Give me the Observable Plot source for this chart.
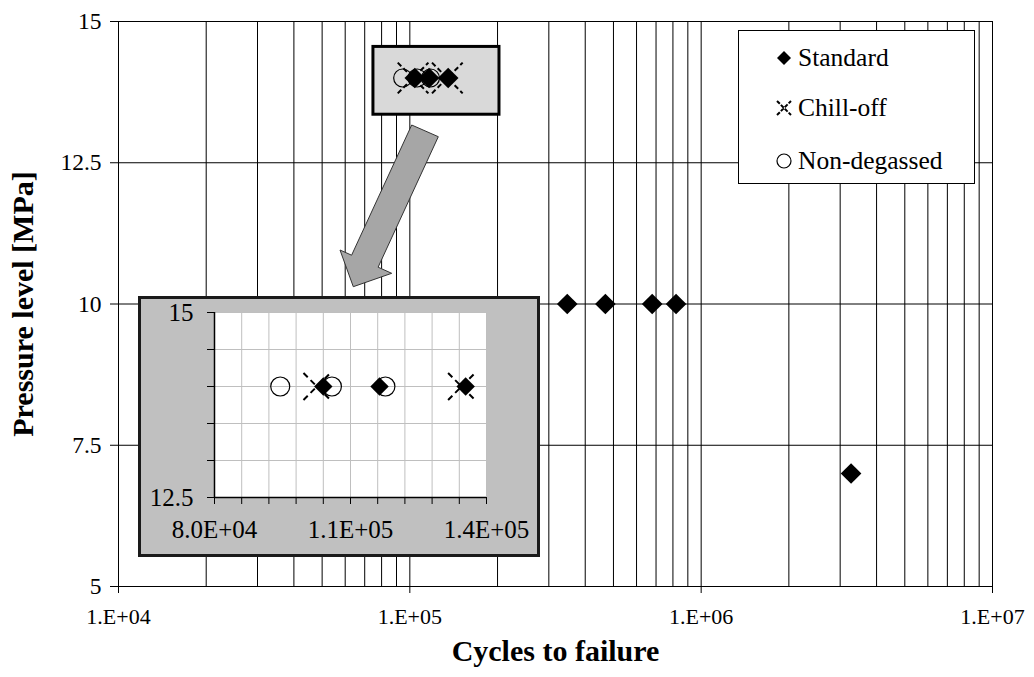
<!DOCTYPE html>
<html><head><meta charset="utf-8">
<script src="https://cdn.jsdelivr.net/npm/d3@7"></script>
<script src="https://cdn.jsdelivr.net/npm/@observablehq/plot@0.6"></script>
<style>
body{margin:0;background:#fff;}
#wrap{position:relative;width:1034px;height:677px;font-family:"Liberation Serif","Times New Roman",serif;overflow:hidden;}
#main{position:absolute;left:0;top:0;}
#inset{position:absolute;left:138px;top:296px;width:402px;height:261px;box-sizing:border-box;border:3px solid #1a1a1a;background:#c0c0c0;}
#legend{position:absolute;left:738px;top:30px;width:237px;height:154px;box-sizing:border-box;border:1px solid #000;background:#fff;}
.lg{position:absolute;left:0;height:30px;display:flex;align-items:center;font-size:25.5px;color:#000;font-family:"Liberation Serif","Times New Roman",serif;}
.lg svg{margin-left:33px;margin-right:2px;}
#arrow{position:absolute;left:0;top:0;pointer-events:none;}
</style></head><body>
<div id="wrap">
<div id="main"></div>
<svg id="arrow" width="1034" height="677"><polygon points="411.7,125 438.3,136.7 378.1,267.2 391.7,273.3 353.3,286.7 340,250 351.6,255.2" fill="#a6a6a6" stroke="#333" stroke-width="1"/></svg>
<div id="inset"></div>
<div id="legend">
 <div class="lg" style="top:12px"><svg width="24" height="24" viewBox="-12 -12 24 24"><path d="M0,-7L7,0L0,7L-7,0Z" fill="#000"/></svg>Standard</div>
 <div class="lg" style="top:62px"><svg width="24" height="24" viewBox="-12 -12 24 24"><path d="M-7,-7L7,7M-7,7L7,-7" stroke="#000" stroke-width="2" fill="none" stroke-dasharray="4,1.5"/></svg>Chill-off</div>
 <div class="lg" style="top:115px"><svg width="24" height="24" viewBox="-12 -12 24 24"><circle r="7" fill="none" stroke="#000" stroke-width="1.2"/></svg>Non-degassed</div>
</div>
</div>
<script>
// ---- data ----
const standardCycles   = [104000, 116400, 135400, 347000, 469000, 679000, 820000, 3270000];
const standardPressure = [14, 14, 14, 10, 10, 10, 10, 7];
const chillCycles      = [102600, 134500];
const chillPressure    = [14, 14];
const nonDegCycles     = [94500, 105900, 117700];
const nonDegPressure   = [14, 14, 14];

const xTicks = [1e4, 1e5, 1e6, 1e7];
const xTickLabels = ["1.E+04", "1.E+05", "1.E+06", "1.E+07"];
const yTicks = [5, 7.5, 10, 12.5, 15];
const yTickLabels = ["5", "7.5", "10", "12.5", "15"];

const insetXTicks = [80000, 110000, 140000];
const insetXTickLabels = ["8.0E+04", "1.1E+05", "1.4E+05"];
const insetYTicks = [12.5, 15];
const insetYTickLabels = ["12.5", "15"];

const standard = standardCycles.map((c, i) => ({c, p: standardPressure[i]}));
const chill = chillCycles.map((c, i) => ({c, p: chillPressure[i]}));
const nonDeg = nonDegCycles.map((c, i) => ({c, p: nonDegPressure[i]}));

const font = '"Liberation Serif", "Times New Roman", serif';

// log grid lines
const gridX = [];
for (const d of [1e4, 1e5, 1e6]) for (let k = 1; k <= 9; k++) gridX.push(k * d);
gridX.push(1e7);

// highlight window around the 14 MPa cluster
const cl = [...standard, ...chill, ...nonDeg].filter(d => d.p === 14);
const win = [{x1: d3.min(cl, d => d.c) / 1.26, x2: d3.max(cl, d => d.c) * 1.5, y1: 14 - 0.65, y2: 14 + 0.55}];

const main = Plot.plot({
  width: 1034, height: 677,
  marginLeft: 118, marginRight: 42, marginTop: 21, marginBottom: 91,
  x: {type: "log", domain: [1e4, 1e7]},
  y: {domain: [5, 15]},
  style: {fontFamily: font, background: "white", color: "#000", overflow: "visible"},
  marks: [
    Plot.ruleX(gridX, {stroke: "#000", strokeWidth: 1}),
    Plot.ruleY(yTicks, {stroke: "#000", strokeWidth: 1}),
    Plot.rect(win, {x1: "x1", x2: "x2", y1: "y1", y2: "y2", fill: "#d9d9d9", stroke: "#000", strokeWidth: 3}),
    Plot.axisX({ticks: xTicks, tickFormat: d => xTickLabels[xTicks.indexOf(d)], tickSize: 7, tickPadding: 15, fontSize: 22, label: null}),
    Plot.axisY({ticks: yTicks, tickFormat: d => yTickLabels[yTicks.indexOf(d)], tickSize: 8, tickPadding: 9, fontSize: 23.5, label: null}),
    Plot.text(["Cycles to failure"], {frameAnchor: "bottom", textAnchor: "middle", dy: 74, fontSize: 30, fontWeight: "bold"}),
    Plot.text(["Pressure level [MPa]"], {frameAnchor: "left", textAnchor: "middle", dx: -95, rotate: -90, fontSize: 30, fontWeight: "bold"}),
    Plot.dot(nonDeg, {x: "c", y: "p", symbol: "circle", r: 9, fill: "none", stroke: "#000", strokeWidth: 1.2}),
    Plot.dot(chill, {x: "c", y: "p", symbol: "times", r: 14, stroke: "#000", strokeWidth: 2, strokeDasharray: "5,3"}),
    Plot.dot(standard, {x: "c", y: "p", symbol: "diamond2", r: 9.3, fill: "#000", stroke: "none"})
  ]
});
document.getElementById("main").appendChild(main);

const insetGridX = d3.range(80000, 140001, 6000);
const insetGridY = d3.range(12.5, 15.01, 0.5);
const inset = Plot.plot({
  width: 396, height: 255,
  marginLeft: 73, marginRight: 51, marginTop: 13, marginBottom: 57,
  x: {domain: [80000, 140000]},
  y: {domain: [12.5, 15]},
  style: {fontFamily: font, background: "transparent", color: "#000", overflow: "visible"},
  marks: [
    Plot.frame({fill: "white", stroke: null}),
    Plot.ruleX(insetGridX, {stroke: "#bfbfbf", strokeWidth: 1}),
    Plot.ruleY(insetGridY, {stroke: "#bfbfbf", strokeWidth: 1}),
    Plot.axisX({ticks: insetGridX, tickFormat: d => { const i = insetXTicks.indexOf(d); return i < 0 ? "" : insetXTickLabels[i]; }, tickSize: 7, tickPadding: 16, fontSize: 25, label: null}),
    Plot.axisY({ticks: insetGridY, tickFormat: d => { const i = insetYTicks.indexOf(d); return i < 0 ? "" : insetYTickLabels[i]; }, tickSize: 7, tickPadding: 14, fontSize: 25, label: null}),
    Plot.ruleX([80000], {stroke: "#000", strokeWidth: 1.5}),
    Plot.ruleY([12.5], {stroke: "#000", strokeWidth: 1.5}),
    Plot.dot(nonDeg, {x: "c", y: "p", symbol: "circle", r: 9.5, fill: "none", stroke: "#000", strokeWidth: 1.2, clip: true}),
    Plot.dot(chill, {x: "c", y: "p", symbol: "times", r: 12.3, stroke: "#000", strokeWidth: 2, strokeDasharray: "6,4", clip: true}),
    Plot.dot(standard, {x: "c", y: "p", symbol: "diamond2", r: 8.3, fill: "#000", stroke: "none", clip: true})
  ]
});
document.getElementById("inset").appendChild(inset);
</script>
</body></html>
